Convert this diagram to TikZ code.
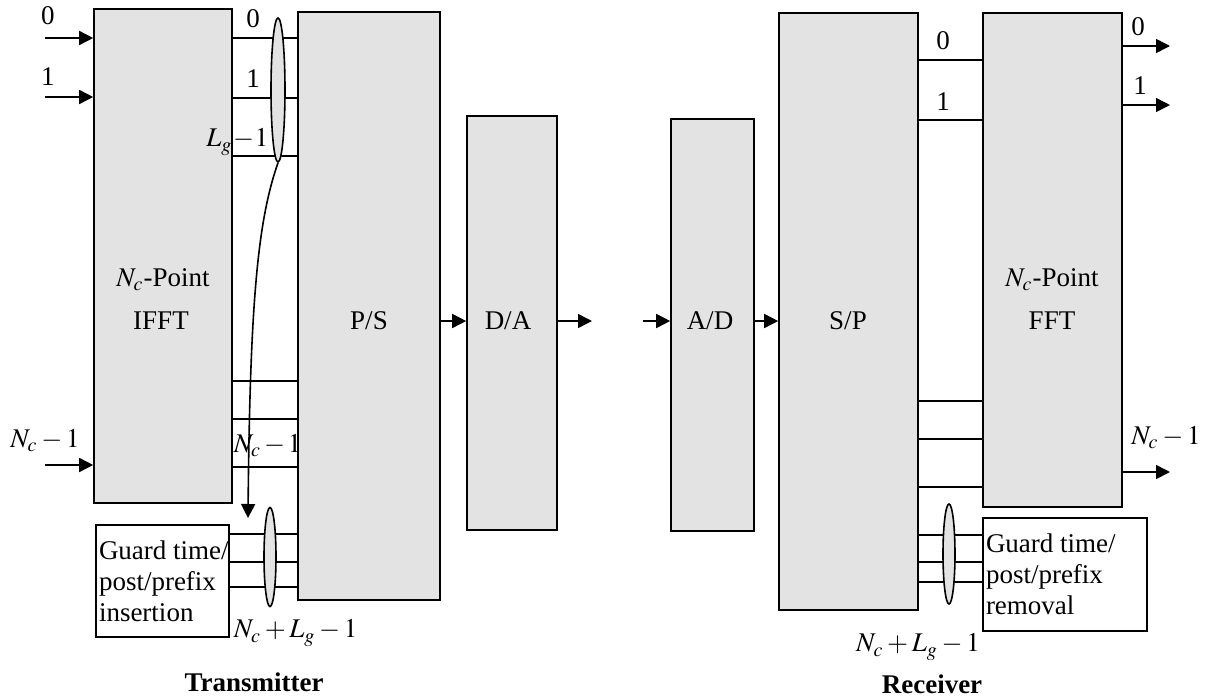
\documentclass[tikz,border=0pt]{standalone}
\usepackage{amsmath}
\usepackage{mathptmx}
\usepackage{fontspec}
\setmainfont{Liberation Serif}
\usetikzlibrary{shapes.geometric,arrows.meta,positioning,calc,fit}

\begin{document}
\begin{tikzpicture}[x=0.5pt,y=-0.5pt,
  font=\fontsize{13.5}{15.5}\selectfont,
  line width=0.8pt,
  blk/.style={draw, fill=black!11, inner sep=0pt},
  gbox/.style={draw, fill=white, inner sep=0pt},
  ell/.style={ellipse, draw, fill=black!11, inner sep=0pt, minimum width=7pt},
  arr/.style={-{Triangle[length=7pt,width=7pt]}},
  lbl/.style={inner sep=0pt}]
\useasboundingbox (0,0) rectangle (1207,697);
% transmitter
\node[blk, fit={(94,9) (232,503)}] (ifft) {};
\node[blk, fit={(298,12) (440,600)}] (ps) {};
\node[blk, fit={(467,116) (557,530)}] (da) {};
\node[gbox, fit={(96,525) (229,637)}] (gtx) {};
\node[lbl, anchor=west, align=left] (gtxt) at ($(gtx.west)+(3,0)$) {Guard time/\\post/prefix\\insertion};
\node (ifftl) at (163,280) {$N_c$-Point};
\node (iffttxt) at (161,321) {IFFT};
\node (pstxt) at (369,321) {P/S};
\node (datxt) at (508,321) {D/A};
\foreach \y/\lab in {38/in0,97/in1,465/inN}{\coordinate (\lab) at (45,\y); \draw[arr] (\lab) -- (ifft.west |- \lab);}
\node (l0) at (48,16) {0};
\node (l1) at (48,77) {1};
\node (lN) at (45,441) {$N_c - 1$};
\foreach \y in {38,98,156,381,419,467}{\draw (ifft.east |- 0,\y) -- (ps.west |- 0,\y);}
\foreach \y in {534,562,587}{\draw (gtx.east |- 0,\y) -- (ps.west |- 0,\y);}
\node (s0) at (253,19) {0};
\node (s1) at (253,79) {1};
\node[ell, minimum height=72pt] (e1) at (278,90) {};
\node[lbl, anchor=east] (sL) at ($(e1.west |- 0,142)+(-1,0)$) {$L_g\!-\!1$};
\node[lbl, anchor=west] (sN) at (233,446) {$N_c\,{-}\,1$};
\node[ell, minimum height=49.5pt, minimum width=6pt] (e2) at (270,557) {};
\coordinate (gdown) at (248,518);
\draw[arr] (e1.south) .. controls (258,220) and (250,300) .. (gdown);
\node[lbl, anchor=west] (sG) at (233,633) {$N_c + L_g - 1$};
\coordinate (daout) at (592,321);
\draw[arr] (ps.east |- 0,321) -- (da.west |- 0,321);
\draw[arr] (da.east |- 0,321) -- (daout);
\node[font=\fontsize{13.5}{15.5}\selectfont\bfseries] (tx) at (254,682) {Transmitter};
% receiver
\node[blk, fit={(671,119) (754,531)}] (ad) {};
\node[blk, fit={(779,13) (918,610)}] (sp) {};
\node[blk, fit={(983,13) (1122,507)}] (fft) {};
\node[gbox, fit={(983,518) (1147,631)}] (grx) {};
\node[lbl, anchor=west, align=left] (grxt) at ($(grx.west)+(3,0)$) {Guard time/\\post/prefix\\removal};
\node (adtxt) at (710,321) {A/D};
\node (sptxt) at (848,321) {S/P};
\node (fftl) at (1052,280) {$N_c$-Point};
\node (ffttxt) at (1052,321) {FFT};
\coordinate (adin) at (643,321);
\draw[arr] (adin) -- (ad.west |- 0,321);
\draw[arr] (ad.east |- 0,321) -- (sp.west |- 0,321);
\foreach \y in {60,120,401,439,487}{\draw (sp.east |- 0,\y) -- (fft.west |- 0,\y);}
\foreach \y in {535,562,582}{\draw (sp.east |- 0,\y) -- (grx.west |- 0,\y);}
\node (r0) at (943,41) {0};
\node (r1) at (943,102) {1};
\node[ell, minimum height=50pt, minimum width=6pt] (e3) at (949,554) {};
\foreach \y/\lab in {46/out0,105/out1,472/outN}{\coordinate (\lab) at (1170,\y); \draw[arr] (fft.east |- \lab) -- (\lab);}
\node (o0) at (1138,27) {0};
\node (o1) at (1140,86) {1};
\node (oN) at (1166,438) {$N_c - 1$};
\node (sG2) at (918,647) {$N_c + L_g - 1$};
\node[font=\fontsize{13.5}{15.5}\selectfont\bfseries] (rx) at (932,684) {Receiver};
\end{tikzpicture}
\end{document}
